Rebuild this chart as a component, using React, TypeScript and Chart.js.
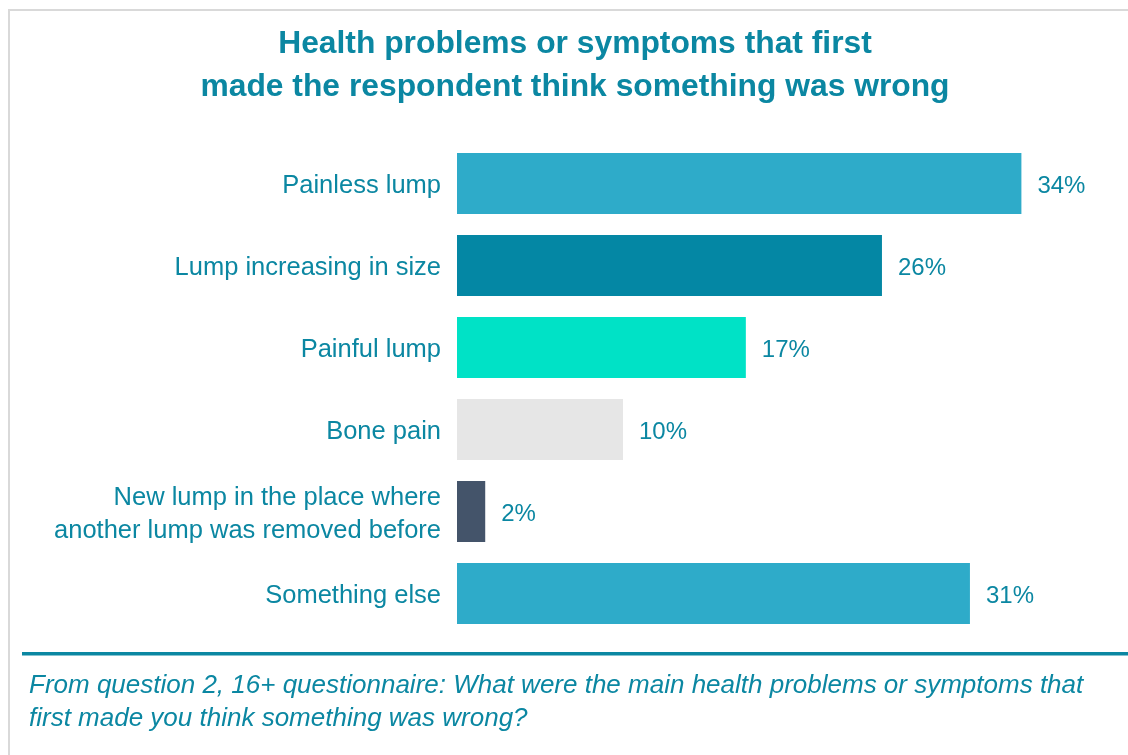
import React, { useEffect, useRef } from "react";
import { Chart, registerables } from "chart.js";

Chart.register(...registerables);

const titleLines = [
  "Health problems or symptoms that first",
  "made the respondent think something was wrong",
];
const categories: (string | string[])[] = [
  "Painless lump",
  "Lump increasing in size",
  "Painful lump",
  "Bone pain",
  ["New lump in the place where", "another lump was removed before"],
  "Something else",
];
const values = [34.0, 25.6, 17.4, 10.0, 1.7, 30.9];
const barColors = ["#2eabc9", "#0487a4", "#00e2c6", "#e6e6e6", "#44546a", "#2eabc9"];
const footerLines = [
  "From question 2, 16+ questionnaire: What were the main health problems or symptoms that",
  "first made you think something was wrong?",
];

const TEXT = "#0b87a2";
const FONT = "'Liberation Sans', Arial, sans-serif";

const decorPlugin = {
  id: "decor",
  beforeDraw(chart: any) {
    const ctx = chart.ctx;
    ctx.save();
    ctx.fillStyle = "#ffffff";
    ctx.fillRect(0, 0, chart.width, chart.height);
    ctx.strokeStyle = "#d9d9d9";
    ctx.lineWidth = 2;
    ctx.strokeRect(9, 10, chart.width + 20, chart.height + 20);
    ctx.fillStyle = "#0b87a2";
    ctx.fillRect(22, 652, chart.width, 3.5);
    ctx.restore();
  },
  afterDatasetsDraw(chart: any) {
    const ctx = chart.ctx;
    const meta = chart.getDatasetMeta(0);
    ctx.save();
    ctx.font = `24px ${FONT}`;
    ctx.fillStyle = TEXT;
    ctx.textAlign = "left";
    ctx.textBaseline = "middle";
    meta.data.forEach((bar: any, i: number) => {
      const label = Math.round(values[i]) + "%";
      ctx.fillText(label, bar.x + 16, bar.y + 2.5);
    });
    ctx.restore();
  },
};

export default function App() {
  const ref = useRef<HTMLCanvasElement | null>(null);
  useEffect(() => {
    if (!ref.current) return;
    const chart = new Chart(ref.current, {
      type: "bar",
      data: {
        labels: categories,
        datasets: [
          {
            data: values,
            backgroundColor: barColors,
            borderWidth: 0,
            barPercentage: 0.744,
            categoryPercentage: 1,
          },
        ],
      },
      options: {
        indexAxis: "y",
        animation: false,
        responsive: false,
        devicePixelRatio: 1,
        layout: { padding: { left: 29, right: 7, top: 0, bottom: 0 } },
        plugins: {
          legend: { display: false },
          tooltip: { enabled: false },
          title: {
            display: true,
            text: titleLines,
            color: TEXT,
            align: "center",
            font: { family: FONT, size: 31.8, weight: "bold", lineHeight: 43 / 31.8 },
            padding: { top: 23, bottom: 33.5 },
          },
          subtitle: {
            display: true,
            position: "bottom",
            text: footerLines,
            color: TEXT,
            align: "start",
            font: { family: FONT, size: 26, style: "italic", weight: "normal", lineHeight: 33 / 26 },
            padding: { top: 35, bottom: 19.5 },
          },
        },
        scales: {
          x: {
            display: false,
            min: 0,
            max: 40,
          },
          y: {
            grid: { display: false, drawTicks: false },
            border: { display: false },
            ticks: {
              color: TEXT,
              padding: 16,
              labelOffset: 2.5,
              font: { family: FONT, size: 25.5, lineHeight: 33 / 25.5 },
            },
            afterFit(scale: any) {
              scale.width = 428;
            },
          },
        },
      },
      plugins: [decorPlugin],
    } as any);
    return () => chart.destroy();
  }, []);
  return (
    <div style={{ position: "absolute", left: 0, top: 0, width: 1128, height: 755, background: "#fff" }}>
      <canvas ref={ref} width={1128} height={755} style={{ display: "block" }} />
    </div>
  );
}
